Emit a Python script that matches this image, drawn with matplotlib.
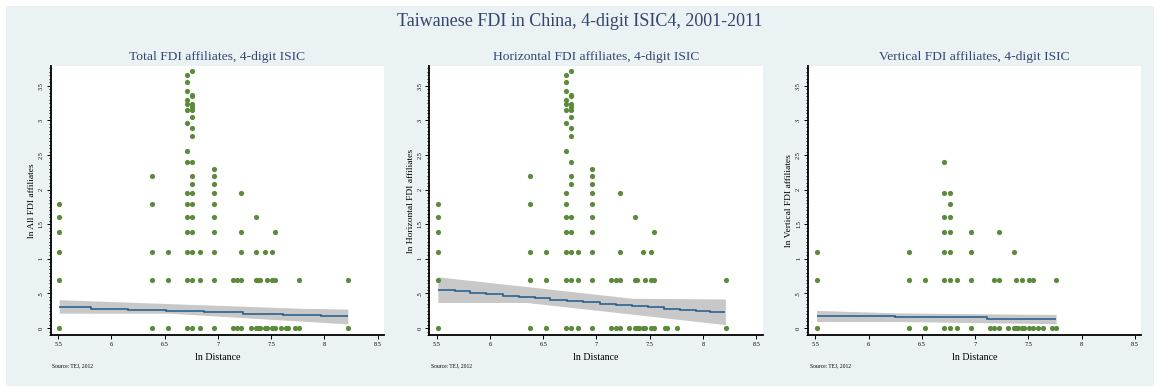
import matplotlib.pyplot as plt
from matplotlib.patches import Rectangle
from matplotlib.ticker import MultipleLocator

plt.rcParams['font.family'] = ['Liberation Serif', 'DejaVu Serif']

# ln distance of each province
a, b, c, d, e, f, g = 5.51, 6.38, 6.53, 6.71, 6.76, 6.83, 6.96
h, i, j, k, l, m, n = 7.14, 7.18, 7.22, 7.31, 7.36, 7.38, 7.40
o, p, q, r, s, t, u = 7.44, 7.46, 7.51, 7.54, 7.59, 7.64, 7.66
v, w, z = 7.72, 7.76, 8.22

# --- Total FDI affiliates ---
total_x = [e, d, d, d, e, e, d, d, e, e, e, d, e, d, e, e, d,
           d, e, g, b, e, g, e, g, d, e, g, j,
           a, b, d, e, g,
           a, d, e, g, l,
           a, d, e, g, j, r,
           a, b, c, d, e, f, g, j, l, o, q,
           a, b, c, d, e, f, g, h, i, j, l, m, n, p, q, r, w, z,
           a, b, c, d, e, f, g, h, i, j, k, l, m, n, o, p, q, r, s, t, u, v, w, z]
total_y = [3.71, 3.66, 3.56, 3.42, 3.37, 3.35, 3.30, 3.23, 3.23, 3.19, 3.15, 3.15, 3.05, 2.96, 2.89, 2.77, 2.56,
           2.40, 2.40, 2.30, 2.20, 2.20, 2.20, 2.08, 2.08, 1.95, 1.95, 1.95, 1.95,
           1.79, 1.79, 1.79, 1.79, 1.79,
           1.61, 1.61, 1.61, 1.61, 1.61,
           1.39, 1.39, 1.39, 1.39, 1.39, 1.39,
           1.10, 1.10, 1.10, 1.10, 1.10, 1.10, 1.10, 1.10, 1.10, 1.10, 1.10,
           0.69, 0.69, 0.69, 0.69, 0.69, 0.69, 0.69, 0.69, 0.69, 0.69, 0.69, 0.69, 0.69, 0.69, 0.69, 0.69, 0.69, 0.69,
           0, 0, 0, 0, 0, 0, 0, 0, 0, 0, 0, 0, 0, 0, 0, 0, 0, 0, 0, 0, 0, 0, 0, 0]
total_fit_edges = [5.51, 5.81, 6.16, 6.51, 6.87, 7.24, 7.61, 7.97, 8.22]
total_fit = [0.300, 0.282, 0.263, 0.245, 0.226, 0.207, 0.188, 0.170]
total_band_x = [5.51, 6.55, 7.80, 8.22]
total_band_hi = [0.41, 0.353, 0.285, 0.275]
total_band_lo = [0.215, 0.215, 0.099, 0.06]

# --- Horizontal FDI affiliates ---
horiz_x = [e, d, d, d, e, e, d, d, e, e, e, d, e, d, e, e, d,
           e, g, b, e, g, e, g, d, g, j,
           a, b, d, g,
           a, d, e, g, l,
           a, d, e, g, r,
           a, b, c, d, e, f, g, j, o, q,
           a, b, c, d, e, f, g, h, i, j, l, m, p, q, r, z,
           a, b, c, d, e, f, g, h, i, j, k, l, m, n, o, p, q, r, t, u, w, z]
horiz_y = [3.71, 3.66, 3.56, 3.42, 3.37, 3.35, 3.30, 3.23, 3.23, 3.19, 3.15, 3.15, 3.05, 2.96, 2.89, 2.77, 2.56,
           2.40, 2.30, 2.20, 2.20, 2.20, 2.08, 2.08, 1.95, 1.95, 1.95,
           1.79, 1.79, 1.79, 1.79,
           1.61, 1.61, 1.61, 1.61, 1.61,
           1.39, 1.39, 1.39, 1.39, 1.39,
           1.10, 1.10, 1.10, 1.10, 1.10, 1.10, 1.10, 1.10, 1.10, 1.10,
           0.69, 0.69, 0.69, 0.69, 0.69, 0.69, 0.69, 0.69, 0.69, 0.69, 0.69, 0.69, 0.69, 0.69, 0.69, 0.69,
           0, 0, 0, 0, 0, 0, 0, 0, 0, 0, 0, 0, 0, 0, 0, 0, 0, 0, 0, 0, 0, 0]
horiz_fit_edges = [5.51, 5.67, 5.81, 5.96, 6.12, 6.27, 6.42, 6.56, 6.72, 6.87,
                   7.03, 7.18, 7.33, 7.48, 7.63, 7.78, 7.93, 8.07, 8.21]
horiz_fit = [0.55, 0.53, 0.51, 0.49, 0.47, 0.45, 0.43, 0.41, 0.39,
             0.37, 0.35, 0.34, 0.32, 0.30, 0.28, 0.26, 0.24, 0.225]
horiz_band_x = [5.51, 6.34, 7.34, 8.21]
horiz_band_hi = [0.74, 0.60, 0.43, 0.42]
horiz_band_lo = [0.37, 0.37, 0.20, 0.05]

# --- Vertical FDI affiliates ---
vert_x = [d, d, e, e, d, e,
          d, e, g, j,
          a, b, d, e, g, l,
          a, b, c, d, e, f, g, i, j, m, o, q, r, w,
          a, b, c, d, e, f, g, h, i, j, k, l, m, n, o, p, q, r, s, t, v, w]
vert_y = [2.40, 1.95, 1.95, 1.79, 1.61, 1.61,
          1.39, 1.39, 1.39, 1.39,
          1.10, 1.10, 1.10, 1.10, 1.10, 1.10,
          0.69, 0.69, 0.69, 0.69, 0.69, 0.69, 0.69, 0.69, 0.69, 0.69, 0.69, 0.69, 0.69, 0.69,
          0, 0, 0, 0, 0, 0, 0, 0, 0, 0, 0, 0, 0, 0, 0, 0, 0, 0, 0, 0, 0, 0]
vert_fit_edges = [5.51, 6.25, 7.11, 7.76]
vert_fit = [0.178, 0.153, 0.130]
vert_band_x = [5.51, 6.25, 7.45, 7.76]
vert_band_hi = [0.255, 0.22, 0.20, 0.197]
vert_band_lo = [0.095, 0.095, 0.07, 0.062]

panels = [
    ("Total FDI affiliates, 4-digit ISIC", "ln All FDI affiliates",
     total_x, total_y, total_fit_edges, total_fit, total_band_x, total_band_hi, total_band_lo),
    ("Horizontal FDI affiliates, 4-digit ISIC", "ln Horizontal FDI affiliates",
     horiz_x, horiz_y, horiz_fit_edges, horiz_fit, horiz_band_x, horiz_band_hi, horiz_band_lo),
    ("Vertical FDI affiliates, 4-digit ISIC", "ln Vertical FDI affiliates",
     vert_x, vert_y, vert_fit_edges, vert_fit, vert_band_x, vert_band_hi, vert_band_lo),
]

xticks = [5.5, 6, 6.5, 7, 7.5, 8, 8.5]
xtick_labels = ["5.5", "6", "6.5", "7", "7.5", "8", "8.5"]
yticks = [0, 0.5, 1, 1.5, 2, 2.5, 3, 3.5]
ytick_labels = ["0", ".5", "1", "1.5", "2", "2.5", "3", "3.5"]

W, H = 1160, 388
title_col = '#34466e'
dot_col = '#5b8a3a'
line_col = '#1f5a8c'
band_col = '#c8c8c8'

fig = plt.figure(figsize=(W / 100, H / 100), dpi=100)
fig.patch.set_facecolor('white')
fig.patches.append(Rectangle((6 / W, 2 / H), (W - 12) / W, (H - 8) / H,
                             transform=fig.transFigure, facecolor='#eaf2f3',
                             edgecolor='none', zorder=-10))

fig.text(0.5, 1 - 21 / H, "Taiwanese FDI in China, 4-digit ISIC4, 2001-2011",
         ha='center', va='center', fontsize=13, color=title_col)

lefts = [50.7, 429.3, 808]
for left, (sub, ylab, xs, ys, edges, fit, bx, bhi, blo) in zip(lefts, panels):
    ax = fig.add_axes([left / W, (H - 335) / H, 333.3 / W, 269 / H])
    ax.set_facecolor('white')
    ax.fill_between(bx, blo, bhi, color=band_col, lw=0, zorder=1)
    ax.stairs(fit, edges, color=line_col, lw=1.1, baseline=None, zorder=2)
    ax.scatter(xs, ys, s=14, color=dot_col, lw=0, zorder=3)

    ax.set_xlim(5.43, 8.56)
    ax.set_ylim(-0.1, 3.785)
    ax.set_xticks(xticks)
    ax.set_xticklabels(xtick_labels)
    ax.set_yticks(yticks)
    ax.set_yticklabels(ytick_labels, rotation=90, va='center')
    ax.yaxis.set_minor_locator(MultipleLocator(0.05))
    ax.tick_params(axis='both', which='major', labelsize=4.5, length=3, width=0.7, pad=2)
    ax.tick_params(axis='y', which='minor', length=1.5, width=0.6)
    for side in ['top', 'right']:
        ax.spines[side].set_visible(False)
    for side in ['left', 'bottom']:
        ax.spines[side].set_linewidth(1.3)

    ax.set_title(sub, fontsize=9.7, color=title_col, pad=4)
    ax.set_ylabel(ylab, fontsize=6.8, labelpad=2)
    ax.set_xlabel("ln Distance", fontsize=7.2, labelpad=4)
    fig.text((left + 1.5) / W, 1 - 366 / H, "Source: TEJ, 2012",
             fontsize=4, ha='left', va='center')

fig.savefig("out.png", dpi=100)
